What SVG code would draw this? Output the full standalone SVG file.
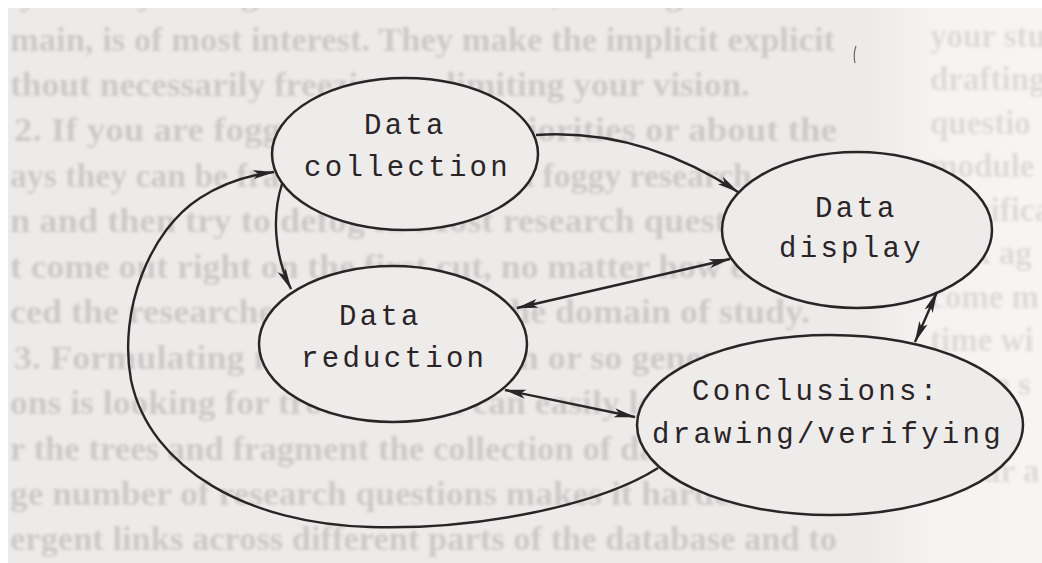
<svg xmlns="http://www.w3.org/2000/svg" width="1042" height="563" viewBox="0 0 1042 563">
  <style>
    .page-text { font-family: "Liberation Serif", "Times New Roman", serif; font-size: 33px; font-weight: bold; fill: #ccc9c8; }
    .page-text-r { font-family: "Liberation Serif", "Times New Roman", serif; font-size: 33px; font-weight: bold; fill: #dddbda; }
    .node-shape { fill: #eeeceb; stroke: #2a2427; stroke-width: 2.5; }
    .node-label { font-family: "Liberation Mono", "Courier New", monospace; font-size: 29px; letter-spacing: 3.3px; fill: #2a2427; }
    .edge { fill: none; stroke: #2a2427; stroke-width: 2.4; }
  </style>
  <defs>
    <marker id="ah" viewBox="0 0 22 10" refX="21" refY="5" markerWidth="22" markerHeight="10" markerUnits="userSpaceOnUse" orient="auto-start-reverse">
      <path d="M0,0.5 L22,5 L0,9.5 L5,5 z" fill="#2a2427"/>
    </marker>
    <filter id="soft" x="-5%" y="-20%" width="110%" height="140%">
      <feGaussianBlur stdDeviation="1.5"/>
    </filter>
    <linearGradient id="rightfade" x1="0" y1="0" x2="1" y2="0">
      <stop offset="0" stop-color="#f4f3f2" stop-opacity="0"/>
      <stop offset="0.35" stop-color="#f4f3f2" stop-opacity="1"/>
      <stop offset="1" stop-color="#f6f5f4" stop-opacity="1"/>
    </linearGradient>
    <clipPath id="paper">
      <rect x="8" y="8" width="1034" height="555"/>
    </clipPath>
  </defs>

  <!-- paper -->
  <rect x="0" y="0" width="1042" height="563" fill="#ffffff"/>
  <rect x="8" y="8" width="1034" height="555" fill="#edebea"/>
  <rect x="870" y="8" width="172" height="555" fill="url(#rightfade)"/>

  <!-- book text printed under the figure -->
  <g clip-path="url(#paper)" filter="url(#soft)">
    <text class="page-text" x="10" y="5" textLength="827" lengthAdjust="spacingAndGlyphs">ly allow you to get clear about what, in the general do-</text>
    <text class="page-text" x="10" y="51" textLength="825" lengthAdjust="spacingAndGlyphs">main, is of most interest. They make the implicit explicit</text>
    <text class="page-text" x="10" y="96" textLength="740" lengthAdjust="spacingAndGlyphs">thout necessarily freezing or limiting your vision.</text>
    <text class="page-text" x="14" y="141" textLength="823" lengthAdjust="spacingAndGlyphs">2. If you are foggy about your priorities or about the</text>
    <text class="page-text" x="10" y="187" textLength="827" lengthAdjust="spacingAndGlyphs">ays they can be framed, begin with a foggy research ques-</text>
    <text class="page-text" x="10" y="232" textLength="827" lengthAdjust="spacingAndGlyphs">n and then try to defog it. Most research questions do</text>
    <text class="page-text" x="10" y="278" textLength="827" lengthAdjust="spacingAndGlyphs">t come out right on the first cut, no matter how experi-</text>
    <text class="page-text" x="10" y="323" textLength="800" lengthAdjust="spacingAndGlyphs">ced the researcher or how clear the domain of study.</text>
    <text class="page-text" x="14" y="369" textLength="823" lengthAdjust="spacingAndGlyphs">3. Formulating more than a dozen or so general ques-</text>
    <text class="page-text" x="10" y="414" textLength="827" lengthAdjust="spacingAndGlyphs">ons is looking for trouble. You can easily lose the forest</text>
    <text class="page-text" x="10" y="460" textLength="827" lengthAdjust="spacingAndGlyphs">r the trees and fragment the collection of data. Having a</text>
    <text class="page-text" x="10" y="505" textLength="827" lengthAdjust="spacingAndGlyphs">ge number of research questions makes it harder to see</text>
    <text class="page-text" x="10" y="550" textLength="827" lengthAdjust="spacingAndGlyphs">ergent links across different parts of the database and to</text>

    <text class="page-text-r" x="930" y="47">your stu</text>
    <text class="page-text-r" x="930" y="90">drafting</text>
    <text class="page-text-r" x="930" y="134">questio</text>
    <text class="page-text-r" x="930" y="177">module</text>
    <text class="page-text-r" x="930" y="221">specifica</text>
    <text class="page-text-r" x="930" y="264">look ag</text>
    <text class="page-text-r" x="930" y="308">come m</text>
    <text class="page-text-r" x="930" y="351">time wi</text>
    <text class="page-text-r" x="930" y="395">of the s</text>
    <text class="page-text-r" x="930" y="482">in our a</text>
  </g>

  <!-- stray ink speck -->
  <path d="M856,46 q-3,8 -1,17" fill="none" stroke="#6b6567" stroke-width="1.2"/>

  <!-- nodes: filled ellipses hide the page text behind them -->
  <g id="data-collection">
    <ellipse class="node-shape" cx="405" cy="154" rx="133" ry="76"/>
    <text class="node-label" x="364" y="134">Data</text>
    <text class="node-label" x="304" y="176">collection</text>
  </g>

  <g id="data-display">
    <ellipse class="node-shape" cx="857" cy="230" rx="135" ry="78"/>
    <text class="node-label" x="815" y="217">Data</text>
    <text class="node-label" x="779" y="257">display</text>
  </g>

  <g id="data-reduction">
    <ellipse class="node-shape" cx="393" cy="344" rx="134" ry="78"/>
    <text class="node-label" x="339" y="325">Data</text>
    <text class="node-label" x="301" y="367">reduction</text>
  </g>

  <g id="conclusions">
    <ellipse class="node-shape" cx="830" cy="425" rx="193" ry="90"/>
    <text class="node-label" x="692" y="400">Conclusions:</text>
    <text class="node-label" x="652" y="443">drawing/verifying</text>
  </g>

  <!-- connectors -->
  <g id="connectors">
    <path id="collection-to-display" class="edge" d="M536,135 Q640,128 738,192" marker-end="url(#ah)"/>
    <path id="collection-to-reduction" class="edge" d="M282,184 C272,215 274,255 291,289" marker-end="url(#ah)"/>
    <path id="conclusions-to-collection" class="edge" d="M658,468 C600,505 480,530 370,527 C250,524 150,470 131,380 C118,310 150,230 200,198 C225,182 250,175 274,172" marker-end="url(#ah)"/>
    <path id="display-reduction" class="edge" d="M517,308 L730,259" marker-start="url(#ah)" marker-end="url(#ah)"/>
    <path id="reduction-conclusions" class="edge" d="M505,390 L635,417" marker-start="url(#ah)" marker-end="url(#ah)"/>
    <path id="display-conclusions" class="edge" d="M937,292 L915,342" marker-start="url(#ah)" marker-end="url(#ah)"/>
  </g>
</svg>
